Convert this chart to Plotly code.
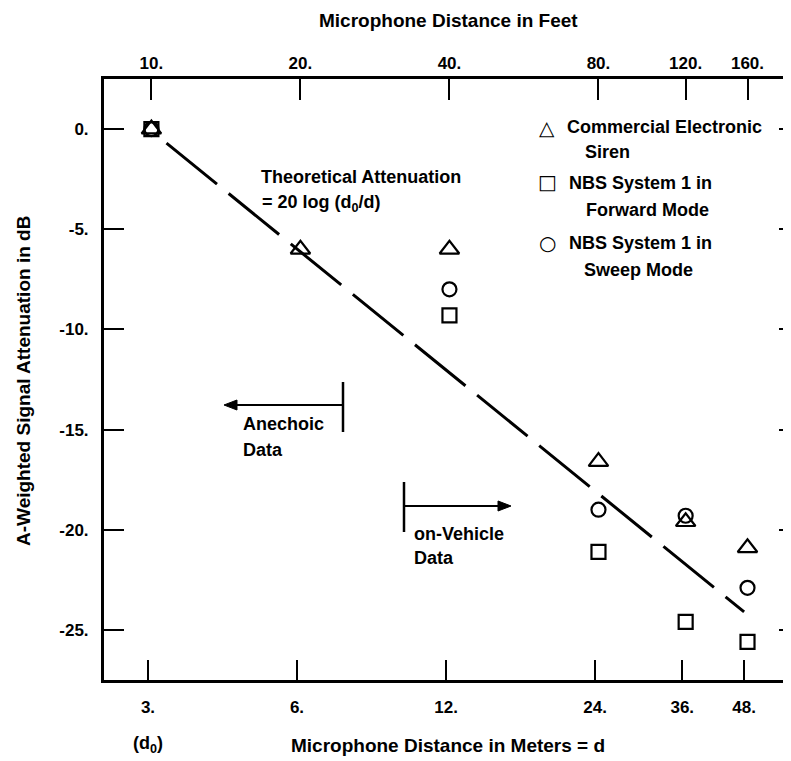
import math
import plotly.graph_objects as go

# ---------------- data ----------------
dist_ft = [10, 20, 40, 80, 120, 160]
siren_db = [0.0, -6.0, -6.0, -16.6, -19.6, -20.9]
forward_ft = [10, 40, 80, 120, 160]
forward_db = [0.0, -9.3, -21.1, -24.6, -25.6]
sweep_ft = [10, 40, 80, 120, 160]
sweep_db = [0.0, -8.0, -19.0, -19.3, -22.9]

theory_m = [3.27, 48.0]
theory_db = [-0.7, -24.1]

meter_ticks = [3, 6, 12, 24, 36, 48]
meter_labels = ["3.", "6.", "12.", "24.", "36.", "48."]
feet_ticks = [10, 20, 40, 80, 120, 160]
feet_labels = ["10.", "20.", "40.", "80.", "120.", "160."]
db_ticks = [0, -5, -10, -15, -20, -25]
db_labels = ["0.", "-5.", "-10.", "-15.", "-20.", "-25."]

# ---------------- layout geometry ----------------
OFF = 8  # page body margin of the browser
W, H = 791 - OFF, 761 - OFF
L, R, T, B = 104 - OFF, 0, 79 - OFF, 761 - 680
PW = W - L - R
PH = H - T - B
M_PER_FT = 0.3048
xr_m = [math.log10(2.445), math.log10(59.7)]
xr_ft = [v - math.log10(M_PER_FT) for v in xr_m]
yr = [-27.5, 2.5]

def px(x):
    return (x - OFF - L) / PW

def py(y):
    return (H - B - (y - OFF)) / PH

FONT = "Liberation Sans, Arial, sans-serif"

def bold(lst):
    return ["<b>%s</b>" % s for s in lst]

fig = go.Figure()

fig.add_trace(go.Scatter(
    x=theory_m, y=theory_db, mode="lines", xaxis="x", yaxis="y",
    line=dict(color="black", width=3, dash="65px,15px"), showlegend=False))

fig.add_trace(go.Scatter(
    x=forward_ft, y=forward_db, mode="markers", xaxis="x2", yaxis="y",
    marker=dict(symbol="square-open", size=14, color="black",
                line=dict(width=2.2, color="black")), showlegend=False))
fig.add_trace(go.Scatter(
    x=sweep_ft, y=sweep_db, mode="markers", xaxis="x2", yaxis="y",
    marker=dict(symbol="circle-open", size=14, color="black",
                line=dict(width=2.2, color="black")), showlegend=False))
fig.add_trace(go.Scatter(
    x=dist_ft, y=siren_db, mode="markers", xaxis="x2", yaxis="y",
    marker=dict(symbol="triangle-up-open", size=17, color="black",
                line=dict(width=2.2, color="black")), showlegend=False))
# invisible trace to activate right-side tick axis
fig.add_trace(go.Scatter(x=[3], y=[0], xaxis="x", yaxis="y2", mode="markers",
                         marker=dict(opacity=0), showlegend=False, hoverinfo="skip"))

tickfont = dict(family=FONT, size=17, color="black")

fig.update_layout(
    width=W, height=H,
    margin=dict(l=L, r=R, t=T, b=B, pad=0),
    paper_bgcolor="white", plot_bgcolor="white",
    xaxis=dict(type="log", range=xr_m, tickvals=meter_ticks, ticktext=bold(meter_labels),
               ticks="inside", ticklen=20, tickwidth=2, tickcolor="black",
               showline=True, linewidth=3, linecolor="black", showgrid=False,
               zeroline=False, tickfont=tickfont, ticklabelstandoff=10),
    xaxis2=dict(type="log", range=xr_ft, overlaying="x", side="top", anchor="y",
                tickvals=feet_ticks, ticktext=bold(feet_labels),
                ticks="inside", ticklen=21, tickwidth=2, tickcolor="black",
                showline=True, linewidth=2.5, linecolor="black", showgrid=False,
                zeroline=False, tickfont=tickfont, ticklabelstandoff=0),
    yaxis=dict(range=yr, tickvals=db_ticks, ticktext=bold(db_labels),
               ticks="inside", ticklen=20, tickwidth=2, tickcolor="black",
               showline=True, linewidth=3, linecolor="black", showgrid=False,
               zeroline=False, tickfont=tickfont, ticklabelstandoff=9),
    yaxis2=dict(range=yr, overlaying="y", side="right", anchor="x",
                tickvals=db_ticks, showticklabels=False,
                ticks="inside", ticklen=12, tickwidth=2, tickcolor="black",
                showline=False, showgrid=False, zeroline=False),
    showlegend=False,
)

ann = []
def text(x, y, s, size=18, anchor="left", angle=0, family=FONT):
    ann.append(dict(x=px(x), y=py(y), xref="paper", yref="paper", text=s,
                    showarrow=False, xanchor=anchor, yanchor="middle",
                    textangle=angle,
                    font=dict(family=family, size=size, color="black")))

# axis titles
text(449, 20, "<b>Microphone Distance in Feet</b>", 19, "center")
text(448, 746, "<b>Microphone Distance in Meters = d</b>", 19, "center")
text(148, 744, "<b>(d<sub>0</sub>)</b>", 18, "center")
text(23, 381, "<b>A-Weighted Signal Attenuation in dB</b>", 19, "center", -90)

# theoretical line label
text(259, 177, "<b>Theoretical Attenuation</b>")
text(260, 203, "<b>= 20 log (d<sub>0</sub>/d)</b>")

# region labels
text(241, 424, "<b>Anechoic</b>")
text(241, 450, "<b>Data</b>")
text(412, 534, "<b>on-Vehicle</b>")
text(412, 558, "<b>Data</b>")

# legend
text(547, 128, "△", 20, "center", family="DejaVu Sans")
text(565, 127, "<b>Commercial Electronic</b>")
text(583, 152, "<b>Siren</b>")
text(547, 182, "□", 20, "center", family="DejaVu Sans")
text(567, 183, "<b>NBS System 1 in</b>")
text(584, 210, "<b>Forward Mode</b>")
text(547, 243, "○", 20, "center", family="DejaVu Sans")
text(567, 243, "<b>NBS System 1 in</b>")
text(582, 270, "<b>Sweep Mode</b>")
fig.update_layout(annotations=ann)

def seg(x0, y0, x1, y1, w=2.5):
    return dict(type="line", xref="paper", yref="paper", x0=px(x0), x1=px(x1),
                y0=py(y0), y1=py(y1), line=dict(color="black", width=w))

def head(tipx, tipy, direction):
    # filled arrow head, 13 px long and 10 px tall
    bx = tipx - 13 * direction
    path = "M %f %f L %f %f L %f %f Z" % (
        px(tipx), py(tipy), px(bx), py(tipy - 5), px(bx), py(tipy + 5))
    return dict(type="path", xref="paper", yref="paper", path=path,
                fillcolor="black", line=dict(color="black", width=1))

shapes = [
    seg(343, 382, 343, 432),
    seg(343, 405, 234, 405, 2),
    head(224, 405, -1),
    seg(404, 482, 404, 532),
    seg(404, 506, 500, 506, 2),
    head(511, 506, 1),
]
fig.update_layout(shapes=shapes)

fig.write_html("out.html")
